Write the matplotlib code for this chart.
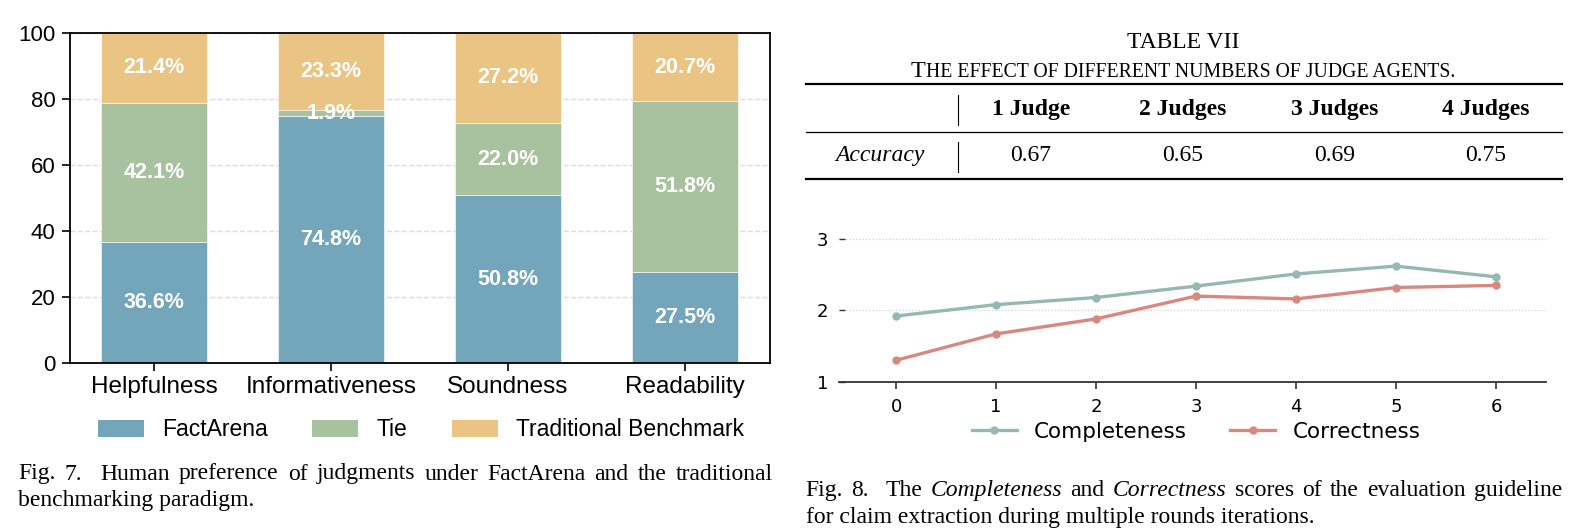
import matplotlib
matplotlib.use('Agg')
import matplotlib.pyplot as plt
from matplotlib.lines import Line2D
from matplotlib.patches import Patch
import numpy as np

# ---------------- data ----------------
categories = ['Helpfulness', 'Informativeness', 'Soundness', 'Readability']
factarena = [36.6, 74.8, 50.8, 27.5]
tie = [42.1, 1.9, 22.0, 51.8]
traditional = [21.4, 23.3, 27.2, 20.7]
bar_series = ['FactArena', 'Tie', 'Traditional Benchmark']

rounds = [0, 1, 2, 3, 4, 5, 6]
completeness = [1.92, 2.08, 2.18, 2.34, 2.51, 2.62, 2.47]
correctness = [1.30, 1.67, 1.88, 2.20, 2.16, 2.32, 2.35]
line_series = ['Completeness', 'Correctness']

table_title = 'TABLE VII'
table_caption = 'The effect of different numbers of judge agents.'
table_cols = ['1 Judge', '2 Judges', '3 Judges', '4 Judges']
table_row_label = 'Accuracy'
accuracy = ['0.67', '0.65', '0.69', '0.75']

fig7_caption = [('Fig. 7.', 'n'), ('Human preference of judgments under FactArena and the traditional', 'n')]
fig7_line2 = 'benchmarking paradigm.'
fig8_caption = [('Fig. 8.', 'n'), ('The', 'n'), ('Completeness', 'i'), ('and', 'n'),
                ('Correctness', 'i'), ('scores of the evaluation guideline', 'n')]
fig8_line2 = 'for claim extraction during multiple rounds iterations.'

# ---------------- figure ----------------
W, H, DPI = 1577, 529, 100
fig = plt.figure(figsize=(W / DPI, H / DPI), dpi=DPI)
fig.patch.set_facecolor('white')


def fx(x):
    return x / W


def fy(y):
    return 1 - y / H


def axes_px(l, t, r, b):
    return fig.add_axes([l / W, 1 - b / H, (r - l) / W, (b - t) / H])


SANS = 'Liberation Sans'
SERIF = 'Liberation Serif'

# ---------------- left: stacked bars ----------------
c_fa, c_tie, c_tr = '#74a6bb', '#a8c29f', '#eac483'
ax1 = axes_px(70, 33, 770, 363)
x = np.arange(len(categories))
bw = 0.6
b2 = np.array(factarena)
b3 = b2 + np.array(tie)
ax1.bar(x, factarena, bw, color=c_fa, edgecolor='white', linewidth=0.4, zorder=2)
ax1.bar(x, tie, bw, bottom=b2, color=c_tie, edgecolor='white', linewidth=0.4, zorder=2)
ax1.bar(x, traditional, bw, bottom=b3, color=c_tr, edgecolor='white', linewidth=0.4, zorder=2)
for i in range(len(categories)):
    for bot, val in ((0, factarena[i]), (b2[i], tie[i]), (b3[i], traditional[i])):
        ax1.text(x[i], bot + val / 2, f'{val:.1f}%', ha='center', va='center',
                 color='white', fontweight='bold', fontsize=15.5, family=SANS, zorder=3)
ax1.set_xlim(-0.475, 3.48)
ax1.set_ylim(0, 100)
ax1.set_yticks([0, 20, 40, 60, 80, 100])
ax1.set_xticks(x)
ax1.set_xticklabels(categories, family=SANS, fontsize=17.5)
for lab in ax1.get_yticklabels():
    lab.set_family(SANS)
    lab.set_fontsize(16)
ax1.yaxis.grid(True, linestyle='--', color='#dcdcdc', linewidth=1.0, zorder=0)
ax1.set_axisbelow(True)
for s in ax1.spines.values():
    s.set_linewidth(1.3)
    s.set_color('black')
ax1.tick_params(axis='both', direction='out', length=5.5, width=1.2, colors='black')
ax1.tick_params(axis='y', pad=5)
ax1.tick_params(axis='x', pad=4)

handles = [Patch(facecolor=c, edgecolor='none') for c in (c_fa, c_tie, c_tr)]
fig.legend(handles, bar_series, loc='center', bbox_to_anchor=(fx(421), fy(430)),
           ncol=3, frameon=False, prop={'family': SANS, 'size': 16.5},
           handlelength=2.0, handleheight=0.75, handletextpad=0.8, columnspacing=1.95)

# ---------------- right: line chart ----------------
c_comp, c_corr = '#94b8b3', '#d98880'
ax2 = axes_px(839, 381.7 - 2.1 * 71.35, 1546, 381.7)
ax2.plot(rounds, completeness, color=c_comp, lw=2.4, marker='o', ms=5, label=line_series[0], zorder=3)
ax2.plot(rounds, correctness, color=c_corr, lw=2.4, marker='o', ms=5, label=line_series[1], zorder=3)
ax2.set_xlim(-0.57, 6.5)
ax2.set_ylim(1, 3.1)
ax2.set_yticks([1, 2, 3])
ax2.set_xticks(rounds)
for side in ('top', 'right', 'left'):
    ax2.spines[side].set_visible(False)
ax2.spines['bottom'].set_color('#333333')
ax2.spines['bottom'].set_linewidth(1.3)
ax2.yaxis.grid(True, linestyle=':', color='#d0d0d0', linewidth=0.9, zorder=0)
ax2.tick_params(axis='y', direction='in', length=4.5, width=1.0, pad=8, labelsize=13, color='#333333')
ax2.tick_params(axis='x', direction='out', length=5, width=1.2, pad=7, labelsize=13, color='#333333')
for lab in ax2.get_xticklabels() + ax2.get_yticklabels():
    lab.set_family('DejaVu Sans')
fig.legend(*ax2.get_legend_handles_labels(), loc='center', bbox_to_anchor=(fx(1196), fy(432)),
           ncol=2, frameon=False, prop={'family': 'DejaVu Sans', 'size': 15.5},
           handlelength=2.1, handletextpad=0.8, columnspacing=2.0)

# ---------------- table ----------------
def hline(y, x0, x1, lw):
    fig.add_artist(Line2D([fx(x0), fx(x1)], [fy(y), fy(y)], color='black', lw=lw,
                          transform=fig.transFigure))


def vline(x, y0, y1, lw):
    fig.add_artist(Line2D([fx(x), fx(x)], [fy(y0), fy(y1)], color='black', lw=lw,
                          transform=fig.transFigure))


T_L, T_R = 805.5, 1562
hline(84, T_L, T_R, 1.6)
hline(132, T_L, T_R, 0.9)
hline(179, T_L, T_R, 1.6)
vline(958, 95, 125, 0.8)
vline(958, 142, 172, 0.8)

fig.text(fx(1183), fy(43), table_title, ha='center', va='center', family=SERIF, fontsize=17)

renderer = fig.canvas.get_renderer()


def px_width(t):
    return t.get_window_extent(renderer).width


# small caps caption
def small_caps(text, xc, ybase, big, small):
    runs = []
    for ch in text:
        is_big = ch.isupper()
        if runs and runs[-1][1] == is_big:
            runs[-1][0] += ch.upper()
        else:
            runs.append([ch.upper(), is_big])
    arts = []
    total = 0
    for s, is_big in runs:
        t = fig.text(0, 0, s, family=SERIF, fontsize=big if is_big else small, va='baseline', ha='left')
        w = px_width(t)
        arts.append((t, w))
        total += w
    xcur = xc - total / 2
    for t, w in arts:
        t.set_position((fx(xcur), fy(ybase)))
        xcur += w


small_caps(table_caption, 1183, 77, 17.5, 14.2)

col_x0, col_dx = 1031, 151.7
for i, c in enumerate(table_cols):
    fig.text(fx(col_x0 + i * col_dx), fy(110), c, ha='center', va='center',
             family=SERIF, fontweight='bold', fontsize=17)
    fig.text(fx(col_x0 + i * col_dx), fy(156), accuracy[i], ha='center', va='center',
             family=SERIF, fontsize=17)
fig.text(fx(880), fy(156), table_row_label, ha='center', va='center',
         family=SERIF, style='italic', fontsize=17)


# ---------------- captions ----------------
def justified(chunks, x0, x1, ybase, size):
    words = []
    gaps = []
    for ci, (txt, st) in enumerate(chunks):
        for wi, w in enumerate(txt.split()):
            if words:
                gaps.append(2.0 if (wi == 0 and ci == 1) else 1.0)
            words.append((w, st))
    arts = []
    tot = 0
    for w, st in words:
        t = fig.text(0, 0, w, family=SERIF, fontsize=size, va='baseline', ha='left',
                     style='italic' if st == 'i' else 'normal')
        ww = px_width(t)
        arts.append((t, ww))
        tot += ww
    unit = (x1 - x0 - tot) / sum(gaps)
    xcur = x0
    for k, (t, ww) in enumerate(arts):
        t.set_position((fx(xcur), fy(ybase)))
        xcur += ww
        if k < len(gaps):
            xcur += unit * gaps[k]


def plain(txt, x0, ybase, size):
    fig.text(fx(x0), fy(ybase), txt, family=SERIF, fontsize=size, va='baseline', ha='left')


CAP = 17
justified(fig7_caption, 18, 773, 479.5, CAP)
plain(fig7_line2, 18, 506, CAP)
justified(fig8_caption, 805.5, 1562, 496, CAP)
plain(fig8_line2, 805.5, 522.5, CAP)

fig.savefig('out.png', dpi=DPI, facecolor='white')
